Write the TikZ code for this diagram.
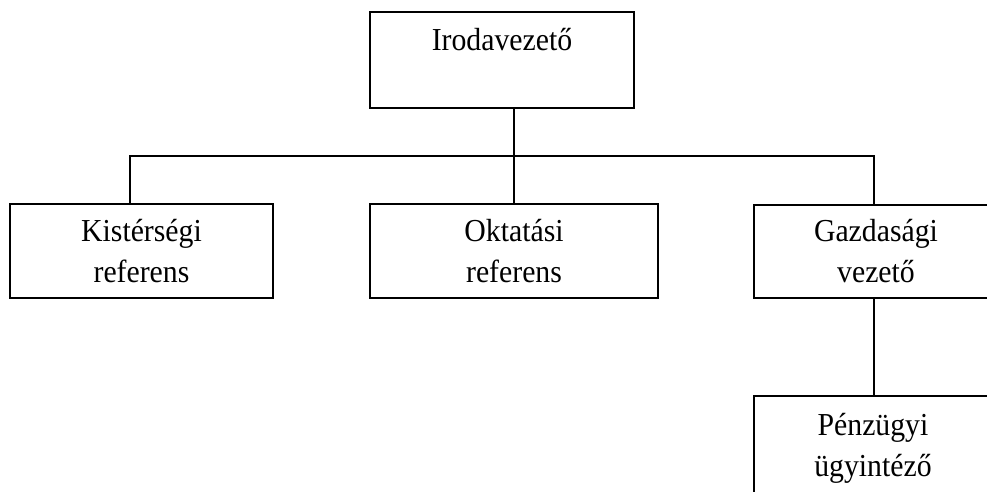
\documentclass[tikz,border=0pt]{standalone}
\usepackage{fontspec}
\setmainfont{Liberation Serif}[FakeStretch=0.93]
\usetikzlibrary{positioning}

\tikzset{
  orgbox/.style={draw, line width=1.6pt, align=center, inner sep=0pt,
    font=\fontsize{32}{41}\selectfont},
  orgline/.style={line width=1.6pt}
}

\begin{document}
\begin{tikzpicture}[x=1pt, y=1pt]
\useasboundingbox (0,0) rectangle (987,-491);
\node[orgbox, minimum width=264, minimum height=96] (iroda) at (502,-60) {Irodavezető\\\mbox{}};
\node[orgbox, minimum width=263, minimum height=94] (kister) at (141.5,-251) {Kistérségi\\referens};
\node[orgbox, minimum width=288, minimum height=94] (oktat) at (514,-251) {Oktatási\\referens};
\node[orgbox, minimum width=244, minimum height=93] (gazd) at (876,-251.5) {Gazdasági\\vezető};
\node[orgbox, minimum width=238, minimum height=104] (penz) at (873,-448) {Pénzügyi\\ügyintéző};
% fo vonal
\coordinate (busL) at (130,-156);
\coordinate (busR) at (874,-156);
\draw[orgline] (oktat.north |- iroda.south) -- (oktat.north);
\draw[orgline] (kister.north -| busL) -- (busL) -- (busR) -- (gazd.north -| busR);
\draw[orgline] (gazd.south -| busR) -- (penz.north -| busR);
\end{tikzpicture}
\end{document}
